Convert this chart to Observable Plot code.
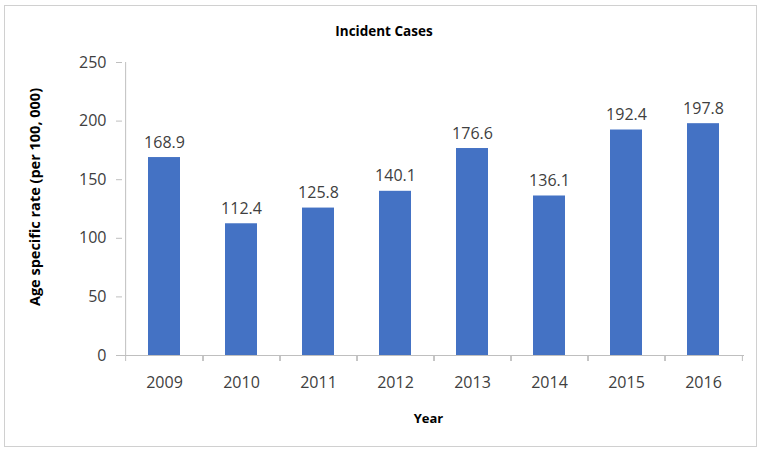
<!DOCTYPE html>
<html><head><meta charset="utf-8">
<script src="https://cdn.jsdelivr.net/npm/d3@7"></script>
<script src="https://cdn.jsdelivr.net/npm/@observablehq/plot@0.6"></script>
<style>
body{margin:0;background:#fff;font-family:"Open Sans",sans-serif;}
#wrap{position:relative;width:763px;height:449px;overflow:hidden;}
#frame{position:absolute;left:4px;top:5px;width:751px;height:440px;border:1px solid #d0d0d0;}
#title{position:absolute;left:0;width:768px;top:22px;text-align:center;font-weight:bold;font-size:13.5px;color:#000;}
#chart{position:absolute;left:0;top:45px;}
</style></head>
<body><div id="wrap"><div id="frame"></div><div id="title">Incident Cases</div><div id="chart"></div></div>
<script>
const years = ["2009","2010","2011","2012","2013","2014","2015","2016"];
const rates = [168.9,112.4,125.8,140.1,176.6,136.1,192.4,197.8];
const yTicks = [0,50,100,150,200,250];
const yLabel = "Age specific rate (per 100, 000)";
const xLabel = "Year";

const data = years.map((y,i)=>({year:y, rate:rates[i]}));
const W = 763, H = 404, mL = 122, mR = 19;
const step = (W - mL - mR) / years.length;
const axisColor = "#bfbfbf", textColor = "#404040";

const plot = Plot.plot({
  width: W, height: H,
  marginLeft: mL, marginRight: mR, marginTop: 17, marginBottom: 94,
  style: {fontFamily: "Open Sans, sans-serif", fontSize: "16px", color: textColor, background: "transparent"},
  x: {type: "band", domain: years, paddingInner: 0.59, paddingOuter: 0.295},
  y: {domain: [0, 250]},
  marks: [
    Plot.barY(data, {x: "year", y: "rate", fill: "#4472C4"}),
    Plot.ruleY([0], {stroke: axisColor, strokeWidth: 1}),
    Plot.ruleX([0], {x: () => years[0], dx: -step/2, y1: 0, y2: 250, stroke: axisColor}),
    Plot.axisY({ticks: yTicks, tickSize: 6, tickPadding: 10, stroke: axisColor, fill: textColor, label: null, fontSize: 16}),
    Plot.axisX({tickSize: 6, dx: step/2, tickFormat: () => "", stroke: axisColor, label: null}),
    Plot.axisX({tickSize: 6, dx: -step/2, tickFormat: () => "", stroke: axisColor, label: null}),
    Plot.axisX({tickSize: 0, tickPadding: 21, fill: textColor, label: null, fontSize: 16}),
    Plot.text(data, {x: "year", y: "rate", text: d => d.rate.toFixed(1), dy: -15, fill: textColor, fontSize: 16}),
    Plot.text([yLabel], {frameAnchor: "left", dx: -87, dy: -12, rotate: -90, text: d => d, textAnchor: "middle", fontWeight: "bold", fontSize: 14.5, fill: "#000", lineAnchor: "middle"}),
    Plot.text([xLabel], {frameAnchor: "bottom", dy: 63, dx: -5, text: d => d, fontWeight: "bold", fontSize: 13, fill: "#000", lineAnchor: "middle"})
  ]
});
document.getElementById("chart").appendChild(plot);
</script>
</body></html>
